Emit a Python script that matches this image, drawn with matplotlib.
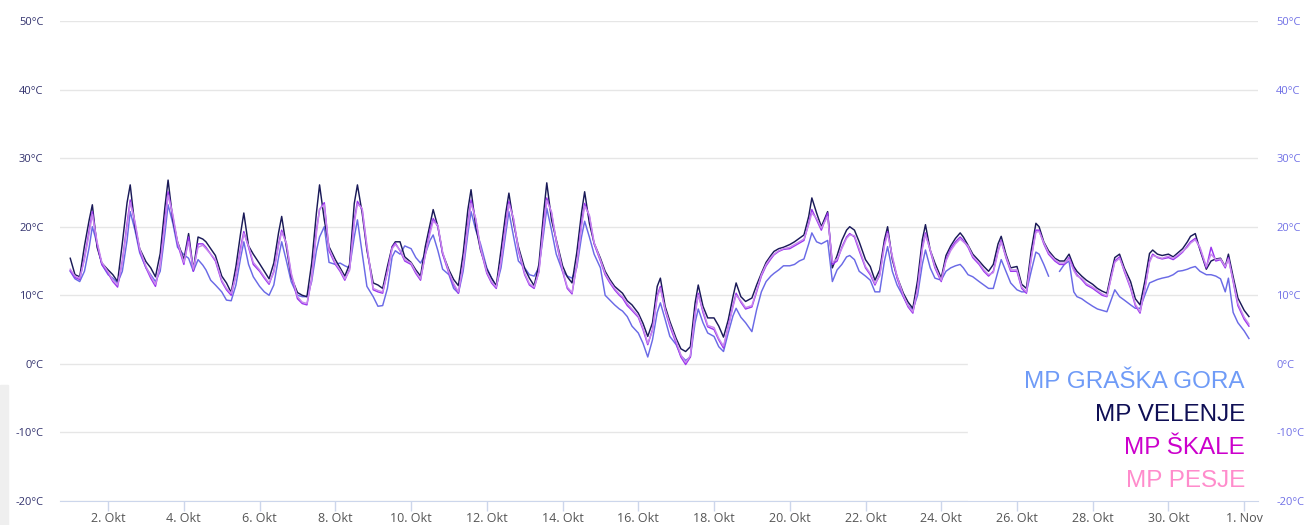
import pandas as pd
import matplotlib
matplotlib.use("Agg")
import matplotlib.pyplot as plt
from matplotlib.patches import Rectangle

# readings every day at these hours (local time), 1. Okt .. 1. Nov
hours = [0, 3, 6, 9, 12, 14, 17, 20]
start = pd.Timestamp("2023-10-01")

velenje = [
    [15.4, 13.0, 12.7, 17.2, 21.0, 23.2, 17.0, 14.7],
    [13.7, 13.0, 12.0, 17.6, 23.5, 26.1, 20.0, 16.8],
    [14.9, 14.0, 12.7, 16.1, 22.9, 26.8, 21.0, 17.8],
    [15.2, 19.0, 13.7, 18.5, 18.2, 17.8, 16.8, 15.8],
    [12.8, 11.8, 10.4, 14.2, 19.1, 22.0, 17.2, 16.0],
    [14.6, 13.5, 12.4, 14.7, 19.1, 21.5, 17.0, 12.7],
    [10.4, 10.0, 9.8, 14.7, 22.0, 26.1, 21.0, 17.1],
    [15.2, 14.0, 12.8, 14.5, 23.4, 26.1, 22.0, 16.6],
    [11.8, 11.5, 11.0, 14.2, 17.1, 17.8, 17.8, 15.6],
    [14.8, 13.7, 12.8, 17.1, 20.3, 22.5, 20.0, 16.1],
    [13.7, 12.3, 11.4, 16.1, 22.5, 25.4, 20.0, 16.6],
    [13.8, 12.5, 11.4, 16.6, 22.0, 24.9, 20.5, 17.1],
    [13.9, 12.5, 11.4, 14.5, 22.0, 26.4, 21.0, 18.1],
    [14.3, 12.7, 11.8, 16.2, 22.0, 25.1, 20.5, 17.6],
    [15.4, 13.5, 12.3, 11.3, 10.7, 10.3, 9.2, 8.6],
    [7.4, 5.9, 4.0, 6.0, 11.3, 12.5, 8.4, 6.2],
    [3.7, 2.2, 1.8, 2.5, 8.9, 11.5, 8.4, 6.7],
    [6.7, 5.5, 3.9, 6.4, 9.8, 11.8, 9.8, 9.1],
    [9.6, 11.5, 13.2, 14.8, 15.8, 16.4, 16.8, 17.0],
    [17.4, 17.8, 18.3, 18.8, 21.5, 24.2, 22.0, 20.0],
    [22.2, 14.0, 15.8, 18.0, 19.5, 20.0, 19.5, 17.8],
    [15.2, 14.2, 12.2, 13.7, 18.1, 20.0, 15.2, 12.7],
    [10.3, 9.0, 8.1, 12.2, 18.1, 20.3, 16.6, 14.7],
    [12.5, 15.8, 17.2, 18.3, 19.1, 18.5, 17.3, 16.0],
    [15.0, 14.2, 13.5, 14.5, 17.5, 18.6, 16.0, 14.0],
    [14.2, 11.6, 11.0, 16.5, 20.5, 20.0, 17.8, 16.5],
    [15.4, 15.0, 15.0, 16.0, 14.2, 13.5, 12.8, 12.2],
    [11.6, 11.0, 10.6, 10.3, 13.5, 15.5, 16.0, 14.0],
    [12.0, 9.5, 8.6, 12.0, 16.1, 16.6, 16.0, 15.8],
    [16.0, 15.6, 16.2, 16.8, 17.8, 18.6, 19.0, 16.6],
    [13.8, 15.0, 15.3, 15.4, 14.2, 16.0, 12.7, 9.6],
    [7.8, 6.9],
]

graska_gora = [
    [13.5, 12.4, 12.0, 13.5, 17.0, 20.0, 17.5, 14.5],
    [13.0, 12.5, 11.8, 13.5, 18.0, 22.2, 19.5, 16.2],
    [14.0, 13.0, 12.0, 13.5, 19.0, 23.2, 20.5, 17.0],
    [15.9, 15.4, 13.5, 15.2, 14.4, 13.7, 12.2, 11.5],
    [10.5, 9.3, 9.2, 11.5, 15.5, 17.8, 14.5, 12.7],
    [11.3, 10.5, 10.0, 11.5, 15.5, 17.8, 15.0, 12.0],
    [10.0, 9.8, 9.8, 12.0, 16.5, 18.5, 20.0, 14.8],
    [14.5, 14.7, 14.3, 14.0, 18.5, 21.0, 16.2, 11.3],
    [9.8, 8.4, 8.5, 11.0, 15.6, 16.5, 16.0, 17.2],
    [16.8, 15.5, 14.7, 16.0, 18.0, 18.8, 16.5, 13.8],
    [13.0, 11.0, 10.3, 13.5, 19.0, 22.2, 19.5, 17.5],
    [14.0, 12.5, 11.3, 14.0, 19.0, 22.2, 18.5, 15.0],
    [14.0, 13.0, 12.8, 14.0, 19.0, 22.7, 19.5, 16.0],
    [13.5, 12.8, 12.5, 14.0, 18.5, 20.8, 18.5, 16.0],
    [14.0, 10.0, 9.3, 8.6, 8.0, 7.7, 6.9, 5.5],
    [4.5, 3.0, 1.0, 3.5, 7.5, 8.9, 6.5, 4.0],
    [2.8, 1.2, 0.5, 1.0, 6.0, 8.0, 6.0, 4.5],
    [4.0, 2.5, 1.8, 4.5, 7.0, 8.1, 6.8, 6.0],
    [4.7, 7.9, 10.5, 12.0, 12.8, 13.2, 13.7, 14.3],
    [14.3, 14.5, 15.0, 15.3, 17.5, 19.1, 17.8, 17.5],
    [18.0, 12.0, 13.7, 14.5, 15.6, 15.8, 15.2, 13.5],
    [12.8, 12.2, 10.5, 10.5, 15.0, 17.1, 13.5, 11.5],
    [9.8, 8.5, 7.9, 10.0, 14.5, 16.6, 14.0, 12.5],
    [12.2, 13.5, 14.0, 14.3, 14.5, 14.0, 13.0, 12.7],
    [12.0, 11.5, 11.0, 11.0, 13.5, 15.2, 13.5, 11.8],
    [10.8, 10.5, 10.5, 13.5, 16.3, 16.0, 14.5, 12.8],
    [float("nan"), 13.5, 14.5, 15.0, 10.5, 9.8, 9.5, 9.0],
    [8.4, 8.0, 7.8, 7.6, 9.5, 10.8, 9.8, 9.3],
    [8.6, 8.1, 8.1, 10.0, 11.8, 12.0, 12.3, 12.5],
    [12.7, 13.0, 13.5, 13.6, 13.8, 14.0, 14.2, 13.5],
    [13.0, 13.0, 12.8, 12.4, 10.5, 12.5, 7.5, 6.0],
    [4.8, 3.7],
]

skale = [
    [13.6, 12.6, 12.3, 15.5, 19.5, 22.2, 17.5, 14.5],
    [13.2, 12.0, 11.2, 15.0, 20.5, 23.9, 20.5, 16.5],
    [14.0, 12.5, 11.3, 14.5, 21.0, 25.1, 21.5, 17.5],
    [14.5, 18.5, 13.5, 17.5, 17.5, 17.0, 16.0, 15.0],
    [12.0, 10.8, 10.0, 13.0, 17.0, 19.3, 17.0, 14.5],
    [13.5, 12.5, 11.6, 13.5, 17.5, 19.5, 17.5, 13.0],
    [9.5, 8.8, 8.6, 12.5, 19.5, 22.5, 23.5, 16.5],
    [14.5, 13.5, 12.2, 13.8, 21.0, 23.7, 22.5, 17.0],
    [10.8, 10.5, 10.3, 13.5, 17.0, 17.6, 16.5, 15.0],
    [14.5, 13.2, 12.2, 16.0, 19.5, 21.2, 20.0, 16.0],
    [13.2, 11.5, 10.3, 14.5, 20.5, 23.9, 21.0, 16.8],
    [13.2, 11.8, 11.0, 15.0, 20.5, 23.7, 21.0, 16.5],
    [13.0, 11.5, 11.0, 13.5, 20.5, 24.2, 22.0, 17.8],
    [13.5, 11.0, 10.2, 14.5, 20.5, 23.4, 21.5, 17.5],
    [15.0, 13.0, 11.8, 10.8, 10.0, 9.6, 8.5, 7.8],
    [6.8, 5.0, 2.8, 5.0, 10.0, 11.3, 7.8, 5.5],
    [3.0, 1.0, -0.1, 1.0, 7.5, 10.3, 7.5, 5.4],
    [5.0, 3.5, 2.3, 5.5, 8.5, 10.3, 9.0, 8.0],
    [8.3, 10.5, 12.8, 14.3, 15.3, 15.9, 16.4, 16.7],
    [16.8, 17.2, 17.6, 18.0, 20.5, 22.5, 21.0, 19.5],
    [22.0, 14.5, 15.0, 17.0, 18.5, 19.0, 18.5, 16.5],
    [14.0, 13.0, 11.5, 13.0, 17.5, 19.3, 15.5, 12.5],
    [9.8, 8.3, 7.4, 11.0, 17.0, 19.1, 16.5, 14.0],
    [12.0, 15.2, 16.8, 17.8, 18.5, 18.0, 17.0, 15.5],
    [14.5, 13.5, 12.8, 13.5, 16.5, 18.0, 15.5, 13.5],
    [13.5, 11.0, 10.3, 15.5, 19.5, 19.5, 17.5, 16.0],
    [15.0, 14.5, 14.5, 15.5, 13.8, 13.0, 12.3, 11.5],
    [11.0, 10.5, 10.0, 9.8, 13.0, 15.0, 15.6, 13.5],
    [11.0, 8.5, 7.4, 11.0, 15.0, 16.0, 15.5, 15.3],
    [15.5, 15.2, 15.7, 16.3, 17.2, 17.8, 18.3, 16.8],
    [14.0, 17.0, 15.0, 15.2, 14.0, 15.5, 12.0, 8.5],
    [6.5, 5.5],
]

pesje = [
    [13.8, 12.8, 12.5, 15.2, 19.0, 21.8, 17.8, 14.8],
    [13.4, 12.2, 11.5, 14.8, 20.0, 23.5, 20.8, 16.8],
    [14.2, 12.8, 11.6, 14.2, 20.5, 24.6, 21.8, 17.8],
    [14.8, 17.8, 13.8, 17.0, 17.3, 16.8, 16.0, 15.2],
    [12.2, 11.0, 10.3, 12.8, 16.5, 19.0, 17.2, 14.8],
    [13.7, 12.7, 11.8, 13.3, 17.2, 19.2, 17.6, 13.3],
    [9.8, 9.0, 8.8, 12.3, 19.0, 22.6, 23.2, 16.8],
    [14.7, 13.7, 12.4, 13.6, 20.5, 23.3, 22.7, 17.3],
    [11.0, 10.7, 10.5, 13.3, 16.8, 17.4, 16.6, 15.2],
    [14.7, 13.4, 12.4, 15.8, 19.0, 20.8, 20.2, 16.3],
    [13.4, 11.7, 10.5, 14.3, 20.0, 23.4, 21.2, 17.0],
    [13.4, 12.0, 11.2, 14.8, 20.0, 23.3, 21.2, 16.8],
    [13.2, 11.7, 11.2, 13.3, 20.0, 23.8, 22.2, 18.0],
    [13.7, 11.2, 10.4, 14.3, 20.0, 23.0, 21.7, 17.7],
    [15.2, 13.2, 12.0, 11.0, 10.2, 9.8, 8.8, 8.0],
    [7.0, 5.2, 3.0, 4.8, 9.7, 11.0, 8.0, 5.8],
    [3.3, 1.3, 0.2, 1.2, 7.2, 10.0, 7.8, 5.6],
    [5.3, 3.7, 2.6, 5.3, 8.3, 10.0, 9.2, 8.2],
    [8.5, 10.7, 13.0, 14.5, 15.5, 16.0, 16.5, 16.8],
    [17.0, 17.4, 17.8, 18.2, 20.3, 22.0, 21.2, 19.8],
    [21.5, 14.8, 15.3, 16.8, 18.3, 18.8, 18.7, 16.8],
    [14.2, 13.2, 11.7, 12.8, 17.2, 19.0, 15.7, 12.8],
    [10.0, 8.5, 7.6, 10.8, 16.7, 18.8, 16.7, 14.2],
    [12.2, 15.0, 16.5, 17.5, 18.2, 17.8, 17.2, 15.7],
    [14.7, 13.7, 13.0, 13.3, 16.3, 17.8, 15.7, 13.7],
    [13.7, 11.2, 10.5, 15.3, 19.2, 19.3, 17.7, 16.2],
    [15.2, 14.7, 14.7, 15.3, 13.6, 12.8, 12.5, 11.7],
    [11.2, 10.7, 10.2, 9.9, 12.8, 14.8, 15.4, 13.7],
    [11.2, 8.7, 7.6, 10.8, 14.8, 15.8, 15.6, 15.4],
    [15.7, 15.4, 15.9, 16.4, 17.0, 17.6, 18.1, 17.0],
    [14.2, 16.0, 15.2, 15.3, 14.2, 15.3, 12.2, 8.8],
    [6.8, 5.8],
]

names = ["MP GRAŠKA GORA", "MP VELENJE", "MP ŠKALE", "MP PESJE"]
line_colors = ["#6a6ae6", "#1a1a58", "#9b35ee", "#c888ee"]
label_colors = ["#6f9bf7", "#0f0f55", "#cc00cc", "#ff8ccc"]
yticks = [-20, -10, 0, 10, 20, 30, 40, 50]
xtick_days = pd.date_range("2023-10-02", "2023-11-01", freq="2D")
months = {10: "Okt", 11: "Nov"}


def to_series(rows):
    t, v = [], []
    for d, row in enumerate(rows):
        for h, val in zip(hours, row):
            t.append(start + pd.Timedelta(days=d, hours=h))
            v.append(val)
    return t, v


fig = plt.figure(figsize=(13.06, 5.25), dpi=100)
fig.patches.append(Rectangle((0, 0), 8 / 1306, 140 / 525, transform=fig.transFigure,
                             color="#efefef", zorder=0))
ax = fig.add_axes([60 / 1306, 24 / 525, 1198 / 1306, 480 / 525])

for rows, c in zip([graska_gora, velenje, skale, pesje], line_colors):
    t, v = to_series(rows)
    ax.plot(t, v, color=c, lw=1.05, zorder=3)

ax.set_ylim(-20, 50)
ax.set_xlim(pd.Timestamp("2023-09-30 17:30"), pd.Timestamp("2023-11-01 08:45"))
ax.set_yticks(yticks)
ax.set_yticklabels([f"{y}°C" for y in yticks])
ax.grid(axis="y", color="#e6e6e6", lw=1)
ax.set_axisbelow(True)
for s in ["top", "left", "right"]:
    ax.spines[s].set_visible(False)
ax.spines["bottom"].set_color("#ccd6eb")
ax.tick_params(axis="y", length=0, pad=12, labelsize=8, labelcolor="#33336e")
for lab in ax.get_yticklabels():
    lab.set_family("Open Sans")

ax.set_xticks(xtick_days)
ax.set_xticklabels([f"{d.day}. {months[d.month]}" for d in xtick_days],
                   family="Open Sans", fontsize=9, color="#555555")
ax.tick_params(axis="x", length=7, color="#ccd6eb", width=1, pad=1)

ax2 = ax.twinx()
ax2.set_ylim(-20, 50)
ax2.set_yticks(yticks)
ax2.set_yticklabels([f"{y}°C" for y in yticks], family="Open Sans")
ax2.tick_params(axis="y", length=0, pad=13, labelsize=8, labelcolor="#7070e6")
for s in ax2.spines.values():
    s.set_visible(False)

# white box behind the legend
ax.add_patch(Rectangle((908 / 1198, 0), 290 / 1198, 139 / 480, transform=ax.transAxes,
                       color="white", zorder=1))
for i, (n, c) in enumerate(zip(names, label_colors)):
    fig.text(1245 / 1306, 1 - (387.5 + i * 33.3) / 525, n, color=c, ha="right",
             va="baseline", family="Liberation Sans", fontsize=17.5)

fig.savefig("out.png", dpi=100)
